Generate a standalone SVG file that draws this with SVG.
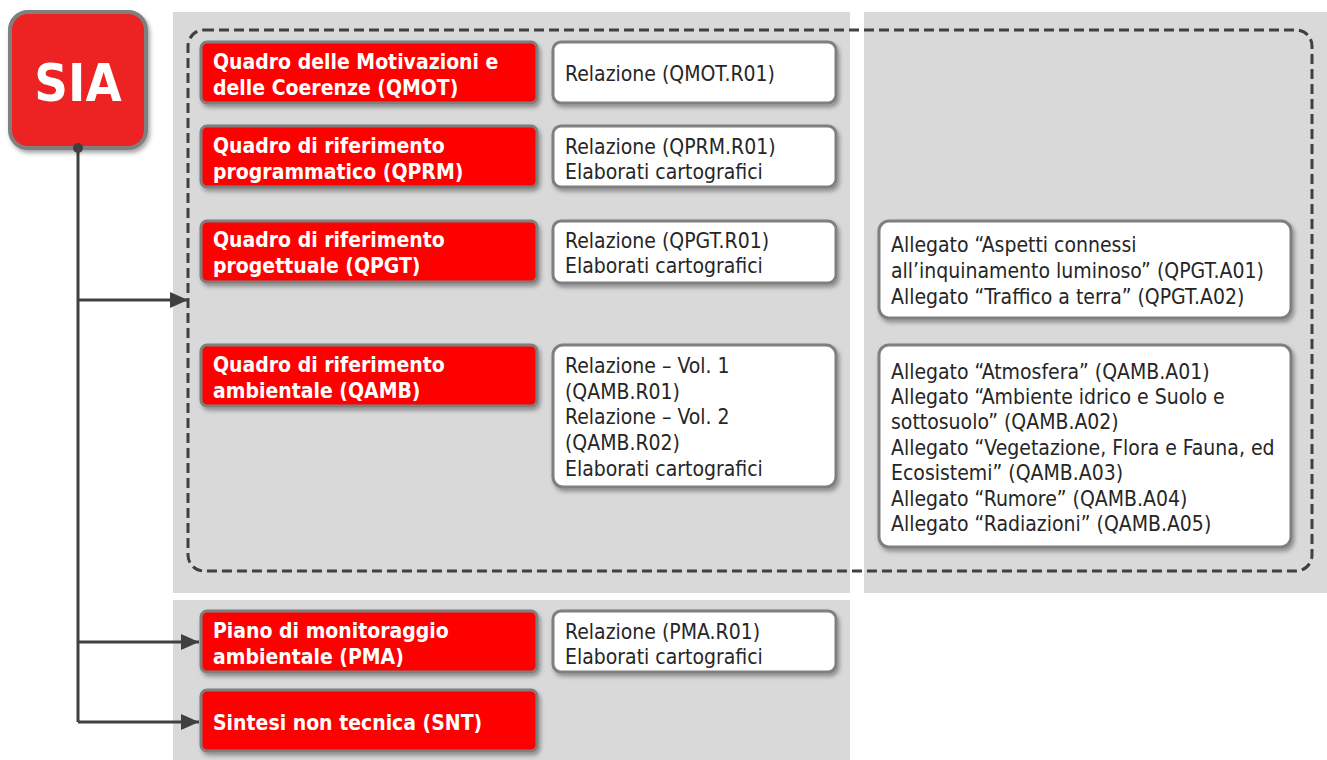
<svg xmlns="http://www.w3.org/2000/svg" width="1327" height="760" viewBox="0 0 1327 760">
<style>
.panel{fill:#d9d9d9}
.red{fill:#ff0000;stroke:#7f7f7f;stroke-width:3;filter:url(#sh)}
.wht{fill:#ffffff;stroke:#7f7f7f;stroke-width:3;filter:url(#sh)}
.bt{font-family:"DejaVu Sans Condensed","DejaVu Sans",sans-serif;font-weight:bold;font-size:21px;fill:#ffffff}
.rt{font-family:"DejaVu Sans Condensed","DejaVu Sans",sans-serif;font-size:21px;fill:#262626}
.conn{fill:none;stroke:#404040;stroke-width:3}
</style>
<defs>
<filter id="sh" x="-10%" y="-10%" width="125%" height="130%">
<feDropShadow dx="2" dy="3" stdDeviation="2" flood-color="#000" flood-opacity="0.35"/>
</filter>
<marker id="ah" viewBox="0 0 10 10" refX="10" refY="5" markerWidth="6" markerHeight="6" orient="auto" markerUnits="strokeWidth">
<path d="M0,0.5 L10,5 L0,9.5 z" fill="#404040"/>
</marker>
</defs>
<rect width="1327" height="760" fill="#ffffff"/>
<g id="panels">
<rect class="panel" x="173" y="12" width="677" height="581"/>
<rect class="panel" x="864" y="12" width="463" height="581"/>
<rect class="panel" x="173" y="600" width="677" height="160"/>
<rect x="188" y="30" width="1124" height="541" rx="16" fill="none" stroke="#404040" stroke-width="3" stroke-dasharray="10 5"/>
</g>
<g id="connectors">
<path class="conn" d="M78,150 V722"/>
<path class="conn" d="M78,300 H188" marker-end="url(#ah)"/>
<path class="conn" d="M78,642 H199" marker-end="url(#ah)"/>
<path class="conn" d="M78,722 H199" marker-end="url(#ah)"/>
</g>
<g id="sia">
<rect x="10" y="12" width="136" height="136" rx="18" fill="#ed2024" stroke="#7f7f7f" stroke-width="4" filter="url(#sh)"/>
<text x="78" y="101" text-anchor="middle" font-family="DejaVu Sans Condensed, DejaVu Sans, sans-serif" font-weight="bold" font-size="52" fill="#ffffff">SIA</text>
<circle cx="78" cy="148" r="5" fill="#404040"/>
</g>
<g id="qmot">
<rect class="red" x="201" y="42" width="336" height="61" rx="6"/>
<text class="bt" x="213" y="69">Quadro delle Motivazioni e</text>
<text class="bt" x="213" y="95">delle Coerenze (QMOT)</text>
</g>
<g id="qmot-doc">
<rect class="wht" x="553" y="42" width="283" height="61" rx="8"/>
<text class="rt" x="565" y="81">Relazione (QMOT.R01)</text>
</g>
<g id="qprm">
<rect class="red" x="201" y="126" width="336" height="61" rx="6"/>
<text class="bt" x="213" y="153">Quadro di riferimento</text>
<text class="bt" x="213" y="179">programmatico (QPRM)</text>
</g>
<g id="qprm-doc">
<rect class="wht" x="553" y="126" width="283" height="61" rx="8"/>
<text class="rt" x="565" y="154">Relazione (QPRM.R01)</text>
<text class="rt" x="565" y="179">Elaborati cartografici</text>
</g>
<g id="qpgt">
<rect class="red" x="201" y="221" width="336" height="61" rx="6"/>
<text class="bt" x="213" y="247">Quadro di riferimento</text>
<text class="bt" x="213" y="273">progettuale (QPGT)</text>
</g>
<g id="qpgt-doc">
<rect class="wht" x="553" y="221" width="283" height="62" rx="8"/>
<text class="rt" x="565" y="248">Relazione (QPGT.R01)</text>
<text class="rt" x="565" y="273">Elaborati cartografici</text>
</g>
<g id="qpgt-all">
<rect class="wht" x="879" y="221" width="412" height="97" rx="10"/>
<text class="rt" x="891" y="252">Allegato “Aspetti connessi</text>
<text class="rt" x="891" y="278">all’inquinamento luminoso” (QPGT.A01)</text>
<text class="rt" x="891" y="304">Allegato “Traffico a terra” (QPGT.A02)</text>
</g>
<g id="qamb">
<rect class="red" x="201" y="345" width="336" height="61" rx="6"/>
<text class="bt" x="213" y="372">Quadro di riferimento</text>
<text class="bt" x="213" y="398">ambientale (QAMB)</text>
</g>
<g id="qamb-doc">
<rect class="wht" x="553" y="345" width="283" height="142" rx="10"/>
<text class="rt" x="565" y="373">Relazione – Vol. 1</text>
<text class="rt" x="565" y="399">(QAMB.R01)</text>
<text class="rt" x="565" y="424">Relazione – Vol. 2</text>
<text class="rt" x="565" y="450">(QAMB.R02)</text>
<text class="rt" x="565" y="476">Elaborati cartografici</text>
</g>
<g id="qamb-all">
<rect class="wht" x="879" y="345" width="412" height="202" rx="10"/>
<text class="rt" x="891" y="379">Allegato “Atmosfera” (QAMB.A01)</text>
<text class="rt" x="891" y="404">Allegato “Ambiente idrico e Suolo e</text>
<text class="rt" x="891" y="429">sottosuolo” (QAMB.A02)</text>
<text class="rt" x="891" y="455">Allegato “Vegetazione, Flora e Fauna, ed</text>
<text class="rt" x="891" y="480">Ecosistemi” (QAMB.A03)</text>
<text class="rt" x="891" y="506">Allegato “Rumore” (QAMB.A04)</text>
<text class="rt" x="891" y="531">Allegato “Radiazioni” (QAMB.A05)</text>
</g>
<g id="pma">
<rect class="red" x="201" y="611" width="336" height="61" rx="6"/>
<text class="bt" x="213" y="638">Piano di monitoraggio</text>
<text class="bt" x="213" y="664">ambientale (PMA)</text>
</g>
<g id="pma-doc">
<rect class="wht" x="553" y="611" width="283" height="61" rx="8"/>
<text class="rt" x="565" y="639">Relazione (PMA.R01)</text>
<text class="rt" x="565" y="664">Elaborati cartografici</text>
</g>
<g id="snt">
<rect class="red" x="201" y="690" width="336" height="61" rx="6"/>
<text class="bt" x="213" y="730">Sintesi non tecnica (SNT)</text>
</g>
</svg>
